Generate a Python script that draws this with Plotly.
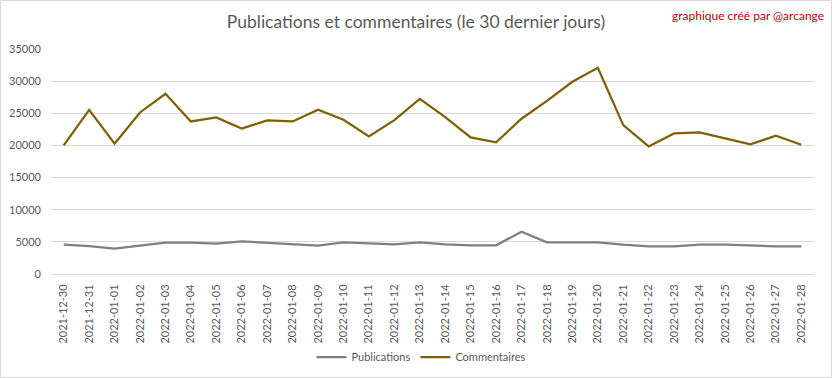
import plotly.graph_objects as go

dates = ["2021-12-30", "2021-12-31", "2022-01-01", "2022-01-02", "2022-01-03", "2022-01-04",
         "2022-01-05", "2022-01-06", "2022-01-07", "2022-01-08", "2022-01-09", "2022-01-10",
         "2022-01-11", "2022-01-12", "2022-01-13", "2022-01-14", "2022-01-15", "2022-01-16",
         "2022-01-17", "2022-01-18", "2022-01-19", "2022-01-20", "2022-01-21", "2022-01-22",
         "2022-01-23", "2022-01-24", "2022-01-25", "2022-01-26", "2022-01-27", "2022-01-28"]

publications = [4560, 4350, 3940, 4400, 4870, 4870, 4720, 5080, 4870, 4560, 4400, 4920,
                4770, 4610, 4920, 4610, 4460, 4460, 6580, 4920, 4920, 4920, 4560, 4300,
                4300, 4560, 4560, 4400, 4300, 4300]

commentaires = [20000, 25540, 20260, 25130, 28030, 23730, 24350, 22640, 23890, 23730, 25540, 23990,
                21400, 23940, 27250, 24400, 21240, 20470, 24150, 26940, 29900, 32070, 23160, 19850,
                21870, 22020, 21090, 20160, 21500, 20100]

font_family = "Lato, 'Open Sans', sans-serif"
W, H = 832, 378
L, R, T, B = 51, 18, 49, 104
PW, PH = W - L - R, H - T - B

fig = go.Figure()
fig.add_trace(go.Scatter(x=dates, y=publications, mode="lines", name="Publications",
                         line=dict(color="#7f7f7f", width=2.25)))
fig.add_trace(go.Scatter(x=dates, y=commentaires, mode="lines", name="Commentaires",
                         line=dict(color="#7f6000", width=2.25)))

fig.update_layout(
    width=W, height=H,
    margin=dict(l=L, r=R, t=T, b=B, autoexpand=False),
    paper_bgcolor="white", plot_bgcolor="white",
    font=dict(family=font_family, color="#595959", size=11),
    title=dict(text="Publications et commentaires (le 30 dernier jours)",
               x=0.5, xanchor="center", y=1 - 22 / H, yanchor="middle",
               font=dict(size=17.5, color="#595959", family=font_family)),
    showlegend=True,
    legend=dict(orientation="h", x=(421 - L) / PW, xanchor="center", yref="container",
                y=1 - 357 / H, yanchor="middle",
                font=dict(size=11, color="#595959"), itemwidth=30),
    xaxis=dict(type="category", range=[-0.5, 29.5], tickangle=-90, showgrid=False,
               showline=True, linecolor="#d9d9d9", linewidth=1, ticks="",
               automargin=False, ticklabelstandoff=5,
               tickfont=dict(size=11, color="#595959")),
    yaxis=dict(range=[0, 35000], dtick=5000, tickformat="d", showgrid=True,
               gridcolor="#d9d9d9", gridwidth=1, zeroline=False, showline=False,
               automargin=False,
               tickfont=dict(size=11, color="#595959"), ticklabelstandoff=9),
    annotations=[dict(text="graphique créé par @arcange", xref="paper", yref="paper",
                      x=(826 - L) / PW, xanchor="right", y=1 + (T - 16) / PH, yanchor="middle",
                      showarrow=False, font=dict(size=12, color="#c00000", family=font_family))],
    shapes=[dict(type="rect", xref="paper", yref="paper",
                 x0=(0.5 - L) / PW, x1=(W - 0.5 - L) / PW,
                 y0=-(B - 0.5) / PH, y1=1 + (T - 0.5) / PH,
                 line=dict(color="#d9d9d9", width=1), fillcolor="rgba(0,0,0,0)", layer="below")],
)

fig.write_html("out.html", config={"displayModeBar": False},
               post_script="document.body.style.margin='0';document.body.style.overflow='hidden';")
